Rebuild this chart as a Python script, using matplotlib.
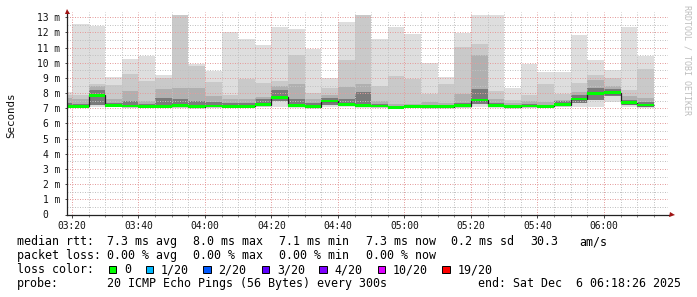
import numpy as np
import matplotlib
matplotlib.use('Agg')
import matplotlib.pyplot as plt
import matplotlib.transforms as mtransforms
from matplotlib.patches import Rectangle

W, H = 697, 297
MONO = 'DejaVu Sans Mono'

# bar edges in minutes after 03:00 (graph starts 03:18:26, 5 minute steps up to 06:15)
edges = [18 + 26 / 60] + list(range(20, 200, 5))

# smoke levels per 5 min step (ms)
ping_max = [8.10, 12.56, 12.43, 9.04, 10.25, 10.47, 9.20, 13.17, 9.92, 9.48,
            12.03, 11.57, 11.17, 12.36, 12.23, 10.91, 9.00, 12.67, 13.15, 11.57,
            12.36, 11.90, 10.00, 9.04, 11.98, 13.15, 13.15, 8.36, 9.92, 9.39,
            9.39, 11.85, 10.18, 9.52, 12.38, 10.47]
ping_hi = [7.90, 7.90, 8.60, 8.54, 9.26, 8.82, 8.98, 13.17, 9.79, 8.76,
           7.88, 8.93, 8.69, 8.82, 10.51, 7.99, 8.34, 10.18, 13.15, 8.49,
           9.15, 8.91, 7.92, 8.60, 11.06, 11.24, 8.14, 7.55, 7.88, 8.60,
           7.94, 8.69, 9.20, 8.98, 8.20, 9.57]
ping_mid = [7.70, 7.60, 8.45, 7.60, 8.14, 7.50, 8.27, 8.36, 8.36, 7.81,
            7.60, 7.60, 7.73, 8.50, 8.60, 7.60, 7.90, 8.43, 8.60, 7.50,
            7.30, 7.30, 7.40, 7.35, 7.92, 10.51, 7.60, 7.35, 7.50, 7.40,
            7.55, 8.10, 8.87, 8.50, 7.80, 7.66]
ping_dark = [7.35, 7.30, 8.20, 7.35, 7.50, 7.30, 7.68, 7.60, 7.50, 7.40,
             7.35, 7.35, 7.60, 8.20, 7.60, 7.35, 7.70, 7.60, 8.05, 7.30,
             7.15, 7.20, 7.20, 7.20, 7.35, 8.30, 7.35, 7.20, 7.30, 7.20,
             7.45, 7.85, 8.35, 8.25, 7.55, 7.40]
median = [7.12, 7.12, 7.86, 7.20, 7.15, 7.12, 7.12, 7.17, 7.10, 7.15,
          7.12, 7.12, 7.25, 7.73, 7.20, 7.10, 7.48, 7.27, 7.20, 7.15,
          7.07, 7.12, 7.10, 7.10, 7.18, 7.54, 7.20, 7.10, 7.15, 7.12,
          7.25, 7.61, 7.99, 8.03, 7.37, 7.22]
ping_low = [7.08, 7.08, 7.20, 7.12, 7.10, 7.08, 7.08, 7.10, 7.07, 7.10,
            7.08, 7.08, 7.12, 7.50, 7.10, 7.07, 7.25, 7.12, 7.10, 7.10,
            7.04, 7.08, 7.07, 7.07, 7.10, 7.30, 7.10, 7.07, 7.08, 7.08,
            7.12, 7.35, 7.55, 7.80, 7.20, 7.10]
ping_min = [7.05, 7.05, 7.10, 7.08, 7.05, 7.05, 7.05, 7.05, 7.03, 7.05,
            7.05, 7.05, 7.08, 7.10, 7.05, 7.03, 7.10, 7.08, 7.05, 7.05,
            7.02, 7.05, 7.04, 7.04, 7.05, 7.10, 7.05, 7.04, 7.05, 7.05,
            7.08, 7.07, 7.07, 7.44, 7.10, 7.05]

x_ticks = [20, 40, 60, 80, 100, 120, 140, 160, 180]
x_labels = ['03:20', '03:40', '04:00', '04:20', '04:40', '05:00', '05:20', '05:40', '06:00']
y_ticks = list(range(0, 14))

rtt_line = ['median rtt:', '7.3 ms avg', '8.0 ms max', '7.1 ms min', '7.3 ms now',
            '0.2 ms sd', '30.3', 'am/s']
loss_line = ['packet loss:', '0.00 % avg', '0.00 % max', '0.00 % min', '0.00 % now']
loss_labels = ['0', '1/20', '2/20', '3/20', '4/20', '10/20', '19/20']
loss_colors = ['#00ff00', '#00b8ff', '#0059ff', '#5e00ff', '#7e00ff', '#dd00ff', '#ff0000']
probe_text = '20 ICMP Echo Pings (56 Bytes) every 300s'
end_text = 'end: Sat Dec  6 06:18:26 2025'


def fx(x):
    return x / W


def fy(y):
    return 1 - y / H


fig = plt.figure(figsize=(W / 100, H / 100), dpi=100)
fig.patch.set_facecolor('white')
ax = fig.add_axes([fx(67), fy(214.5), (668 - 67) / W, (214.5 - 12) / H])
ax.set_xlim(18.5, 199.25)
ax.set_ylim(0, 13.35)
for s in ax.spines.values():
    s.set_visible(False)

e = np.array(edges)
med = np.array(median)

# smoke
ax.stairs(ping_max, e, baseline=ping_min, fill=True, color='#dedede', lw=0, zorder=1)
ax.stairs(ping_hi, e, baseline=ping_low, fill=True, color='#c9c9c9', lw=0, zorder=1.1)
ax.stairs(ping_mid, e, baseline=ping_low, fill=True, color='#b0b0b0', lw=0, zorder=1.2)
ax.stairs(ping_dark, e, baseline=ping_low, fill=True, color='#7a7a7a', lw=0, zorder=1.3)

# median
ax.stairs(med, e, baseline=None, color='#202020', lw=0.9, zorder=3)
ax.stairs(med + 0.09, e, baseline=med - 0.09, fill=True, color='#00ff00', lw=0, zorder=4)

# grid
ax.set_xticks(x_ticks)
ax.set_xticks(np.arange(20, 200, 5), minor=True)
ax.set_yticks(y_ticks)
ax.set_yticks(np.arange(0.5, 13.5, 1), minor=True)
ax.grid(which='major', color='#e49c9c', linestyle=(0, (1, 1.5)), linewidth=0.72)
ax.grid(which='minor', color='#c2c2c2', linestyle=(0, (1, 1.5)), linewidth=0.72)
ax.set_axisbelow(False)

ax.set_xticklabels(x_labels, family=MONO, fontsize=6.9, color='#111111')
ax.tick_params(axis='x', which='major', length=2.2, width=0.7, color='#444444', pad=2.2)
ax.tick_params(axis='x', which='minor', length=1.4, width=0.7, color='#888888')
ax.tick_params(axis='y', which='major', length=1.6, width=0.7, color='#444444', labelleft=False)
ax.tick_params(axis='y', which='minor', length=0)

lab = mtransforms.offset_copy(ax.get_yaxis_transform(), fig=fig, x=-7, y=0, units='dots')
lab0 = mtransforms.offset_copy(ax.get_yaxis_transform(), fig=fig, x=-19, y=0, units='dots')
for v in y_ticks:
    ax.text(0, v, f'{v} m' if v else '0', transform=lab if v else lab0,
            ha='right', va='center_baseline', family=MONO, fontsize=6.9, color='#111111')

# axes with arrows
ax.plot([0, 1.004], [0, 0], transform=ax.transAxes, color='#222222', lw=0.9,
        clip_on=False, zorder=6)
ax.plot([0, 0], [0, 1.0], transform=ax.transAxes, color='#222222', lw=0.9,
        clip_on=False, zorder=6)
ax.plot([1.006], [0], marker='>', ms=3.6, color='#a01414', mew=0,
        transform=ax.transAxes, clip_on=False, zorder=7)
ax.plot([0], [1.005], marker='^', ms=3.6, color='#a01414', mew=0,
        transform=ax.transAxes, clip_on=False, zorder=7)

fig.text(fx(10.8), fy(115), 'Seconds', rotation=90, ha='center', va='center',
         family=MONO, fontsize=7.8, color='#111111')
fig.text(fx(687), fy(60), 'RRDTOOL / TOBI OETIKER', rotation=270, ha='center',
         va='center', family=MONO, fontsize=6, color='#bdbdbd')

# legend
rtt_x = [16.7, 107.3, 193.3, 279.3, 366, 451, 530, 579.3]
for x, t in zip(rtt_x, rtt_line):
    fig.text(fx(x), fy(245.3), t, va='baseline', family=MONO, fontsize=8.4, color='#000000')
loss_x = [16.7, 107.3, 193.3, 279.3, 366]
for x, t in zip(loss_x, loss_line):
    fig.text(fx(x), fy(259.3), t, va='baseline', family=MONO, fontsize=8.4, color='#000000')

fig.text(fx(16.7), fy(273.3), 'loss color:', va='baseline', family=MONO, fontsize=8.4)
box_x = [108.7, 145.7, 203.3, 261.7, 319.3, 377.7, 442.3]
for x, c, t in zip(box_x, loss_colors, loss_labels):
    fig.add_artist(Rectangle((fx(x), fy(273.3)), 7.6 / W, 7.6 / H, facecolor=c,
                             edgecolor='#000000', lw=0.7, transform=fig.transFigure))
    fig.text(fx(x + 15.3), fy(273.3), t, va='baseline', family=MONO, fontsize=8.4)

fig.text(fx(16.7), fy(287.3), 'probe:', va='baseline', family=MONO, fontsize=8.4)
fig.text(fx(107.3), fy(287.3), probe_text, va='baseline', family=MONO, fontsize=8.4)
fig.text(fx(478.3), fy(287.3), end_text, va='baseline', family=MONO, fontsize=8.4)

fig.savefig('out.png', dpi=100)
